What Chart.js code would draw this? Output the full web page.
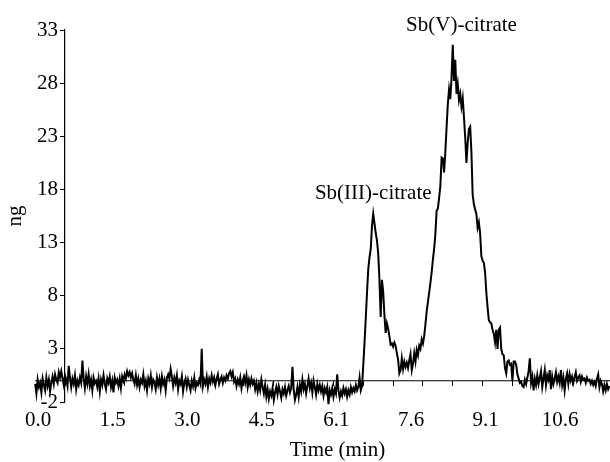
<!DOCTYPE html>
<html>
<head>
<meta charset="utf-8">
<script src="https://cdn.jsdelivr.net/npm/chart.js@4.4.1/dist/chart.umd.min.js"></script>
<style>
  html, body { margin: 0; padding: 0; background: #fff; }
  canvas { display: block; }
</style>
</head>
<body>
<canvas id="chromChart" width="610" height="462"></canvas>
<script>
// Signal (ng) per sample, one sample every 1.52 s (60 samples = 1.52 min)
const signal = [
  -0.3, -1.2, 0.1, -0.6, -0.2, -1.1, 0.2, -0.4, -0.9, 0.3,
  -0.5, 0.1, -1.0, -0.2, 0.4, -0.3, 0.6, 0.1, -0.2, 0.8,
  0.3, 0.9, 0.2, -0.4, 0.5, 0.1, -0.5, 1.4, 0.3, -0.6,
  0.2, -0.3, 0.5, -0.8, 0.0, -0.4, 0.3, -0.2, 1.9, 0.2,
  -0.7, 0.4, -0.3, 0.6, -0.5, 0.1, -0.9, 0.3, -0.2, 0.0,
  -0.6, 0.2, -1.0, 0.1, -0.4, 0.5, -0.3, -0.8, 0.2, -0.2,
  0.4, -0.6, 0.0, -1.1, 0.3, -0.2, 0.1, -0.5, 0.2, -0.7,
  0.4, 0.0, 0.6, 0.2, 0.9, 0.5, 0.8, 0.3, 0.7, 0.1,
  -0.3, 0.5, -0.4, 0.2, -0.6, 0.1, -0.2, 0.6, -0.5, 0.0,
  -0.9, 0.2, -0.3, 0.5, -0.6, 0.1, -0.2, -0.8, 0.3, -0.4,
  0.2, -0.7, 0.4, -0.3, 0.1, -0.9, 0.3, 0.6, 0.2, 1.1,
  0.4, -0.5, 0.3, -0.2, 0.5, -0.8, 0.0, -0.3, 0.4, -1.0,
  -0.2, 0.2, -0.6, 0.1, -0.4, -0.9, 0.0, -0.5, 0.3, -0.7,
  -0.2, -0.4, 0.1, -0.3, 3.0, -0.5, 0.1, -0.3, 0.4, -0.6,
  0.2, -0.2, 0.5, -0.1, 0.3, -0.4, 0.2, 0.6, -0.3, 0.1,
  0.4, -0.2, 0.3, 0.0, 0.5, 0.2, 0.7, 0.9, 0.4, 0.8,
  -0.1, 0.2, -0.5, 0.1, -0.3, 0.3, -0.7, 0.0, 0.4, -0.2,
  0.5, -0.6, 0.1, -0.4, 0.2, -0.3, 0.0, -0.8, -0.2, -1.0,
  -0.3, -0.9, 0.1, -0.6, -1.2, -0.4, -1.5, -0.8, -1.7, -1.0,
  -1.4, -0.7, -1.8, -1.1, -0.6, -1.3, -0.5, -1.0, -1.6, -0.8,
  -1.2, -0.6, -1.4, -0.9, -0.5, -1.1, -0.7, 1.3, -0.8, -1.8,
  -1.3, -0.6, -1.5, -0.4, -1.0, 0.1, -0.8, -0.3, -1.2, -0.5,
  0.2, -0.7, -0.2, -1.1, 0.0, -0.6, -1.3, -0.3, -0.9, -0.4,
  -1.0, -0.5, -1.4, -0.7, -1.1, -0.6, -2.2, -0.9, -1.3, -0.7,
  -1.5, -0.8, -1.2, 0.6, -0.9, -1.6, -1.0, -1.4, -0.7, -1.2,
  -0.8, -1.5, -0.9, -1.3, -0.6, -1.1, -0.7, -1.0, -0.4, -0.9,
  -0.6, 0.3, -0.9, -0.5, 1.5, 3.6, 5.9, 8.3, 10.5, 11.6,
  12.4, 14.6, 15.7, 14.8, 13.9, 13.2, 12.0, 9.5, 6.0, 9.5,
  8.4, 6.2, 4.5, 5.4, 4.9, 4.2, 3.4, 3.5, 3.2, 3.6,
  3.3, 2.6, 2.0, 0.7, 1.0, 2.1, 1.1, 1.8, 1.3, 1.7,
  1.2, 1.9, 2.5, 1.0, 1.6, 2.6, 1.8, 2.9, 2.4, 3.3,
  3.0, 3.9, 3.5, 4.2, 5.3, 6.5, 7.4, 8.3, 9.2, 10.2,
  11.4, 12.4, 13.8, 16.0, 16.2, 17.2, 18.3, 21.0, 20.9, 19.6,
  21.5, 23.8, 26.0, 27.4, 26.5, 28.5, 31.6, 28.2, 30.2, 27.0,
  27.9, 26.4, 27.0, 25.8, 26.6, 24.8, 22.9, 20.5, 22.4, 23.7,
  23.9, 21.5, 17.5, 16.6, 16.1, 15.7, 14.4, 14.9, 13.9, 11.7,
  11.3, 11.1, 10.2, 8.3, 6.9, 5.7, 5.5, 5.4, 4.8, 4.4,
  3.6, 4.8, 3.0, 4.8, 5.0, 3.0, 2.5, 2.4, 1.2, 0.7,
  1.8, 1.9, 1.5, 1.6, 0.0, 1.8, 1.8, 1.5, 0.6, 0.2,
  -0.2, -0.1, -0.5, -0.6, 0.1, -0.3, 0.3, 0.9, 2.1, -0.2,
  0.4, -0.9, 0.2, -0.4, 0.5, -0.3, 0.3, 0.9, -0.6, 0.2,
  1.0, -0.4, 0.5, 0.1, 1.0, -0.8, 0.4, -0.3, 0.2, 0.8,
  -0.1, 0.4, -0.2, 1.0, -0.4, 0.3, -0.9, 0.2, 0.7, -0.3,
  0.6, 0.0, 0.4, -0.2, 0.3, 0.8, 0.0, 0.3, 0.5, -0.1,
  0.4, 0.1, 0.2, -0.2, 0.3, 0.0, 0.1, -0.3, 0.0, -0.4,
  -0.1, -0.5, 0.2, 0.6, -0.6, 0.0, -0.3, -1.0, -0.4, -0.9,
  -0.3, -0.8, -0.5
];

// x axis labels (min) and the sample they sit on
const timeLabels = ['0.0', '1.5', '3.0', '4.5', '6.1', '7.6', '9.1', '10.6'];
const timeLabelSamples = [0, 60, 120, 180, 240, 300, 360, 420];

// small tick marks on the zero line, every 24 samples
const tickMarkSamples = [24, 48, 72, 96, 120, 144, 168, 192, 216, 240, 264, 288, 312, 336, 360, 384, 408, 432, 456];

// y axis ticks (ng)
const yTicks = [-2, 3, 8, 13, 18, 23, 28, 33];

// peak labels: text, sample (centre), height in ng
const peakNames = ['Sb(III)-citrate', 'Sb(V)-citrate'];
const peakSamples = [272, 343];
const peakHeights = [17.6, 33.4];

// vertical axis crosses at sample 24; plot runs to the right edge
const axisStart = 24;
const axisEnd = 462.5;

const serif = "'Liberation Serif', 'Times New Roman', serif";

const points = signal.map((v, i) => ({ x: i, y: v }));
const zeroLine = [{ x: 0, y: 0 }, { x: axisEnd, y: 0 }];

const peakLabelPlugin = {
  id: 'peakLabels',
  afterDatasetsDraw(chart) {
    const { ctx, scales } = chart;
    ctx.save();
    ctx.fillStyle = '#000';
    ctx.font = '21px ' + serif;
    ctx.textAlign = 'center';
    ctx.textBaseline = 'middle';
    peakNames.forEach((name, i) => {
      ctx.fillText(name, scales.x.getPixelForValue(peakSamples[i]), scales.y.getPixelForValue(peakHeights[i]));
    });
    ctx.restore();
  }
};

const setRange = s => { s.min = axisStart; s.max = axisEnd; };

new Chart(document.getElementById('chromChart').getContext('2d'), {
  type: 'line',
  data: {
    datasets: [
      {
        data: points,
        borderColor: '#000',
        borderWidth: 2,
        pointRadius: 0,
        tension: 0,
        clip: false
      },
      {
        data: zeroLine,
        borderColor: '#000',
        borderWidth: 1.2,
        pointRadius: 0,
        clip: false
      }
    ]
  },
  options: {
    responsive: false,
    devicePixelRatio: 1,
    animation: false,
    layout: { padding: { top: 30, right: 0, bottom: 0, left: 0 } },
    plugins: { legend: { display: false }, tooltip: { enabled: false } },
    scales: {
      x: {
        type: 'linear',
        position: 'bottom',
        bounds: 'data',
        afterDataLimits: setRange,
        afterBuildTicks: s => { s.ticks = timeLabelSamples.map(v => ({ value: v })); },
        afterFit: s => { s.height = 60; },
        grid: { display: false, drawTicks: false },
        border: { display: false },
        ticks: {
          autoSkip: false, maxRotation: 0, minRotation: 0,
          padding: 6, labelOffset: 3, color: '#000',
          font: { family: serif, size: 21 },
          callback: (v, i) => timeLabels[i]
        },
        title: {
          display: true, text: 'Time (min)', color: '#000',
          font: { family: serif, size: 21, lineHeight: 1.1 },
          padding: { top: 0, bottom: 0 }
        }
      },
      xt: {
        type: 'linear',
        position: { y: 0 },
        bounds: 'data',
        afterDataLimits: setRange,
        afterBuildTicks: s => { s.ticks = tickMarkSamples.map(v => ({ value: v })); },
        grid: { drawOnChartArea: false, drawTicks: true, tickLength: 5, color: '#000', lineWidth: 1 },
        border: { display: false },
        ticks: { display: false }
      },
      y: {
        type: 'linear',
        position: 'left',
        min: -2,
        max: 33,
        afterBuildTicks: s => { s.ticks = yTicks.map(v => ({ value: v })); },
        afterFit: s => { s.width = 65; },
        grid: { drawOnChartArea: false, drawTicks: true, tickLength: 5, color: '#000', lineWidth: 1 },
        border: { display: true, color: '#000', width: 1.2 },
        ticks: { padding: 2, color: '#000', font: { family: serif, size: 21 } },
        title: {
          display: true, text: 'ng', color: '#000',
          font: { family: serif, size: 21, lineHeight: 1.2 },
          padding: { top: 3, bottom: 0 }
        }
      }
    }
  },
  plugins: [peakLabelPlugin]
});
</script>
</body>
</html>
